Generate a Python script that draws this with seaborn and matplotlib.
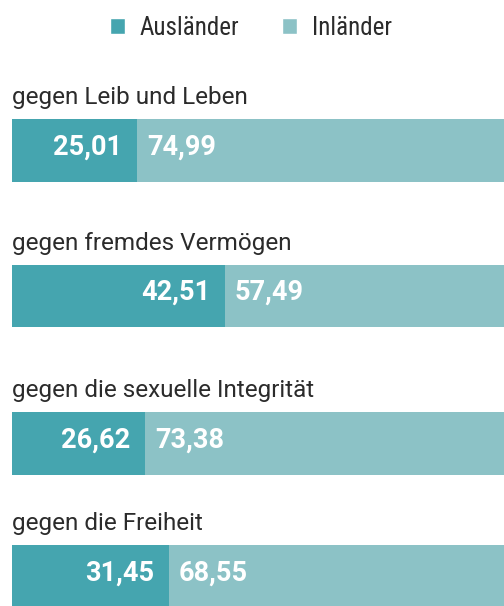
import matplotlib
matplotlib.use("Agg")
import matplotlib.pyplot as plt
import matplotlib.font_manager as fm
from matplotlib.patches import Patch
import pandas as pd
import seaborn as sns

# Daten
categories = ["gegen Leib und Leben", "gegen fremdes Vermögen",
              "gegen die sexuelle Integrität", "gegen die Freiheit"]
auslaender = [25.01, 42.51, 26.62, 31.45]
inlaender = [74.99, 57.49, 73.38, 68.55]
series_names = ["Ausländer", "Inländer"]

DARK = "#45a5af"
LIGHT = "#8cc2c6"
TEXT = "#2b2b2b"


def pick_font(wanted):
    available = {f.name for f in fm.fontManager.ttflist}
    for name in wanted:
        if name in available:
            return name
    return "DejaVu Sans"


sns.set_theme(style="white")
font = pick_font(["Roboto", "Liberation Sans"])
narrow = pick_font(["Roboto Condensed", "Liberation Sans Narrow", "Roboto"])
plt.rcParams["font.family"] = [font, "DejaVu Sans"]

W, H = 504, 606
fig = plt.figure(figsize=(W / 100, H / 100), dpi=100)

# Zeilen-Positionen in Pixeln (oben, unten) der Balken
rows_px = [(119, 182), (265, 327), (412, 475), (545, 608)]
left_px = 12

df = pd.DataFrame({"kategorie": categories, "aus": auslaender, "inl": inlaender})
df["total"] = df["aus"] + df["inl"]

for (top, bottom), (_, row) in zip(rows_px, df.iterrows()):
    ax = fig.add_axes([left_px / W, 1 - bottom / H, 1 - left_px / W, (bottom - top) / H])
    one = row.to_frame().T
    one["total"] = one["total"].astype(float)
    one["aus"] = one["aus"].astype(float)
    sns.barplot(data=one, x="total", y="kategorie", orient="h", color=LIGHT,
                width=1, saturation=1, ax=ax, linewidth=0)
    sns.barplot(data=one, x="aus", y="kategorie", orient="h", color=DARK,
                width=1, saturation=1, ax=ax, linewidth=0)
    ax.set_xlim(0, 100 * (W - left_px) / 500)
    ax.set_ylim(0.5, -0.5)
    ax.axis("off")

    aus, inl = float(row["aus"]), float(row["inl"])
    ax.annotate(f"{aus:.2f}".replace(".", ","), xy=(aus, -0.06), xytext=(-10.5, 0),
                textcoords="offset points", ha="right", va="center",
                color="white", fontsize=19.5, fontweight="bold")
    ax.annotate(f"{inl:.2f}".replace(".", ","), xy=(aus, -0.06), xytext=(7, 0),
                textcoords="offset points", ha="left", va="center",
                color="white", fontsize=19.5, fontweight="bold")
    ax.annotate(row["kategorie"], xy=(0, 1), xycoords="axes fraction",
                xytext=(0, 11), textcoords="offset points", ha="left",
                va="baseline", color=TEXT, fontsize=17.5)

handles = [Patch(facecolor=DARK, label=series_names[0]),
           Patch(facecolor=LIGHT, label=series_names[1])]
fig.legend(handles=handles, loc="center", bbox_to_anchor=(251 / W, 1 - 28 / H),
           ncol=2, frameon=False, prop=fm.FontProperties(family=narrow, size=18),
           handlelength=0.6, handleheight=0.6, handletextpad=0.6,
           columnspacing=1.7, labelcolor=TEXT)

fig.savefig("out.png", dpi=100)
